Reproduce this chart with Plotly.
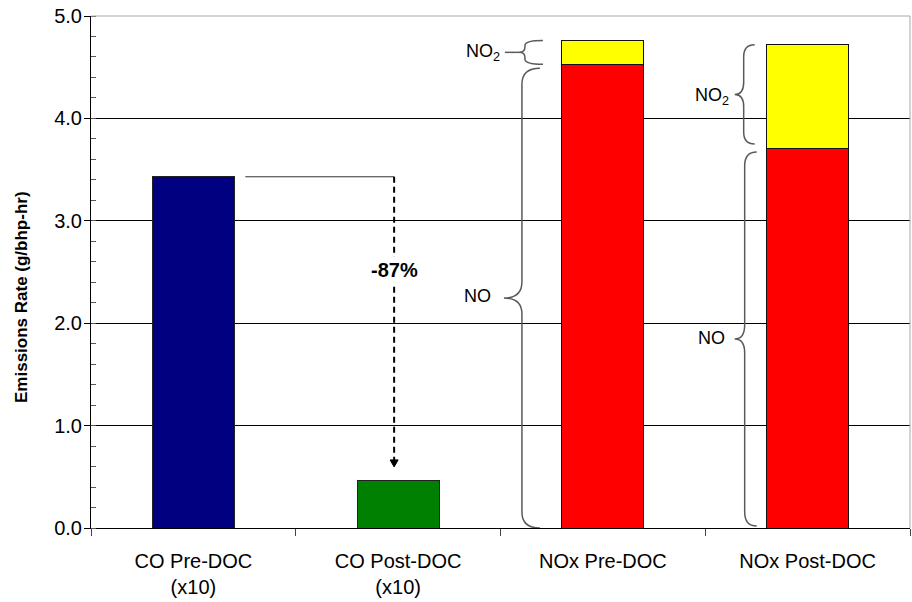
import plotly.graph_objects as go

# ---------------- data ----------------
categories = ["CO Pre-DOC<br>(x10)", "CO Post-DOC<br>(x10)", "NOx Pre-DOC", "NOx Post-DOC"]
co_categories = categories[:2]
nox_categories = categories[2:]
co_values = [3.43, 0.46]          # CO (x10), g/bhp-hr
no_values = [4.53, 3.71]          # NO part of NOx
no2_values = [0.23, 1.01]         # NO2 part of NOx
reduction_label = "-87%"
y_ticks = [0, 1, 2, 3, 4, 5]

# ---------------- geometry (styles) ----------------
W, H = 912, 602
ML, MR, MT, MB = 91, 2, 16, 74
PW = W - ML - MR
PH = H - MT - MB
YMAX = 5.0
FONT = "Liberation Sans, Arial, sans-serif"

PL = ML
PT = MT


def to_paper(px):
    return (px - PL) / PW


def val_to_py(v):
    return PT + PH * (1 - v / YMAX)


def py_to_val(py):
    return (1 - (py - PT) / PH) * YMAX


def cat_left_px(i, width=0.4):
    n = len(categories)
    return PL + PW * (i + 0.5 - width / 2) / n


def cat_center_px(i):
    return PL + PW * (i + 0.5) / len(categories)


fig = go.Figure()
fig.add_trace(go.Bar(x=co_categories, y=co_values, marker=dict(color=["#000080", "#008000"],
                     line=dict(color="#222", width=1)), showlegend=False, hoverinfo="skip"))
fig.add_trace(go.Bar(x=nox_categories, y=no_values, marker=dict(color="#FF0000",
                     line=dict(color="#111", width=1)), showlegend=False, hoverinfo="skip"))
fig.add_trace(go.Bar(x=nox_categories, y=no2_values, marker=dict(color="#FFFF00",
                     line=dict(color="#111", width=1)), showlegend=False, hoverinfo="skip"))

shapes = []
annotations = []

BRACE_COLOR = "#5a5a5a"


def brace(xe, xs, xt, ytop, ybot, ymid=None, r=None):
    """Curly brace '{' in pixel coords; returns a path shape (paper x, data y)."""
    if ymid is None:
        ymid = (ytop + ybot) / 2
    if r is None:
        r = min(14, (ybot - ytop) / 4)

    def P(x, y):
        return f"{to_paper(x):.5f},{py_to_val(y):.5f}"
    path = (f"M {P(xe, ytop)} Q {P(xs, ytop)} {P(xs, ytop + r)} "
            f"L {P(xs, ymid - r)} Q {P(xs, ymid)} {P(xt, ymid)} "
            f"Q {P(xs, ymid)} {P(xs, ymid + r)} "
            f"L {P(xs, ybot - r)} Q {P(xs, ybot)} {P(xe, ybot)}")
    return dict(type="path", path=path, xref="paper", yref="y",
                line=dict(color=BRACE_COLOR, width=1.5), layer="above")


def label(text, x_right, y_px, size=18):
    annotations.append(dict(text=text, x=to_paper(x_right), y=py_to_val(y_px), xref="paper", yref="y",
                            xanchor="right", yanchor="middle", showarrow=False,
                            font=dict(family=FONT, size=size, color="black")))


# NOx Pre-DOC braces
lp = cat_left_px(2)
no_top = val_to_py(no_values[0])
tot_top = val_to_py(no_values[0] + no2_values[0])
bot = val_to_py(0)
ymid_no = (no_top + bot) / 2
shapes.append(brace(lp - 22, lp - 40, lp - 58, no_top + 4, bot, r=16))
label("NO", lp - 69, ymid_no)
ymid_no2 = (tot_top + no_top) / 2
shapes.append(brace(lp - 19, lp - 37, lp - 43, tot_top, no_top, r=5))
shapes.append(dict(type="line", xref="paper", yref="y", x0=to_paper(lp - 57), x1=to_paper(lp - 43),
                   y0=py_to_val(ymid_no2), y1=py_to_val(ymid_no2), line=dict(color=BRACE_COLOR, width=1.5)))
label("NO<sub>2</sub>", lp - 60, ymid_no2)

# NOx Post-DOC braces
lq = cat_left_px(3)
no_top = val_to_py(no_values[1])
tot_top = val_to_py(no_values[1] + no2_values[1])
ymid_no = (no_top + bot) / 2
shapes.append(brace(lq - 10, lq - 22, lq - 32, no_top + 4, bot - 2, r=14))
label("NO", lq - 40, ymid_no)
ymid_no2 = (tot_top + no_top) / 2
shapes.append(brace(lq - 12, lq - 23, lq - 32, tot_top, no_top - 4, r=12))
label("NO<sub>2</sub>", lq - 36, ymid_no2)

# CO reduction: horizontal reference line + dashed arrow
co_pre_px = val_to_py(co_values[0])
co_post_px = val_to_py(co_values[1])
x_start = cat_left_px(0) + PW / len(categories) * 0.4 + 11
x_arrow = cat_center_px(1) - 4
shapes.append(dict(type="line", xref="paper", yref="y", x0=to_paper(x_start), x1=to_paper(x_arrow),
                   y0=co_values[0], y1=co_values[0], line=dict(color="#333", width=1)))
tip_px = co_post_px - 14
shapes.append(dict(type="line", xref="paper", yref="y", x0=to_paper(x_arrow), x1=to_paper(x_arrow),
                   y0=co_values[0], y1=py_to_val(tip_px - 6), line=dict(color="black", width=2, dash="6px,4px")))
shapes.append(dict(type="path", xref="paper", yref="y",
                   path=(f"M {to_paper(x_arrow - 4):.5f},{py_to_val(tip_px - 7):.5f} "
                         f"L {to_paper(x_arrow + 4):.5f},{py_to_val(tip_px - 7):.5f} "
                         f"L {to_paper(x_arrow):.5f},{py_to_val(tip_px):.5f} Z"),
                   fillcolor="black", line=dict(color="black", width=1)))
annotations.append(dict(text=f"<b>{reduction_label}</b>", x=to_paper(x_arrow), y=py_to_val(270),
                        xref="paper", yref="y", showarrow=False, bgcolor="white",
                        font=dict(family=FONT, size=20, color="black"), borderpad=2))

# plot border top/right (gray)
shapes.append(dict(type="path", xref="paper", yref="paper", path="M 0,1 L 1,1 L 1,0",
                   line=dict(color="#A8A8A8", width=1), layer="above"))

# y axis title
annotations.append(dict(text="<b>Emissions Rate (g/bhp-hr)</b>", x=to_paper(21), y=py_to_val(297) / YMAX,
                        xref="paper", yref="paper", textangle=-90, showarrow=False,
                        xanchor="center", yanchor="middle",
                        font=dict(family=FONT, size=17, color="black")))

fig.update_layout(
    width=W, height=H, margin=dict(l=ML, r=MR, t=MT, b=MB, pad=0, autoexpand=False),
    paper_bgcolor="white", plot_bgcolor="white",
    barmode="stack", bargap=0.6,
    shapes=shapes, annotations=annotations,
    font=dict(family=FONT, color="black"),
    xaxis=dict(type="category", categoryorder="array", categoryarray=categories,
               tickson="boundaries", ticks="outside", ticklen=7, tickcolor="#444",
               showline=True, linecolor="black", linewidth=1, showgrid=False,
               tickfont=dict(size=20, family=FONT), ticklabelstandoff=15),
    yaxis=dict(range=[0, YMAX], tickvals=y_ticks, tickformat=".1f",
               ticks="outside", ticklen=6, tickcolor="black",
               showline=True, linecolor="black", linewidth=1,
               showgrid=True, gridcolor="black", gridwidth=1, zeroline=False,
               tickfont=dict(size=20, family=FONT), ticklabeloverflow="allow",
               ticklabelstandoff=-2,
               minor=dict(dtick=0.2, ticks="inside", ticklen=5, tickcolor="#555", showgrid=False)),
)

# remove the default page margin so the figure sits at the window's top-left corner
fig.write_html("out.html", config={"displayModeBar": False},
               post_script="document.body.style.margin='0';")
